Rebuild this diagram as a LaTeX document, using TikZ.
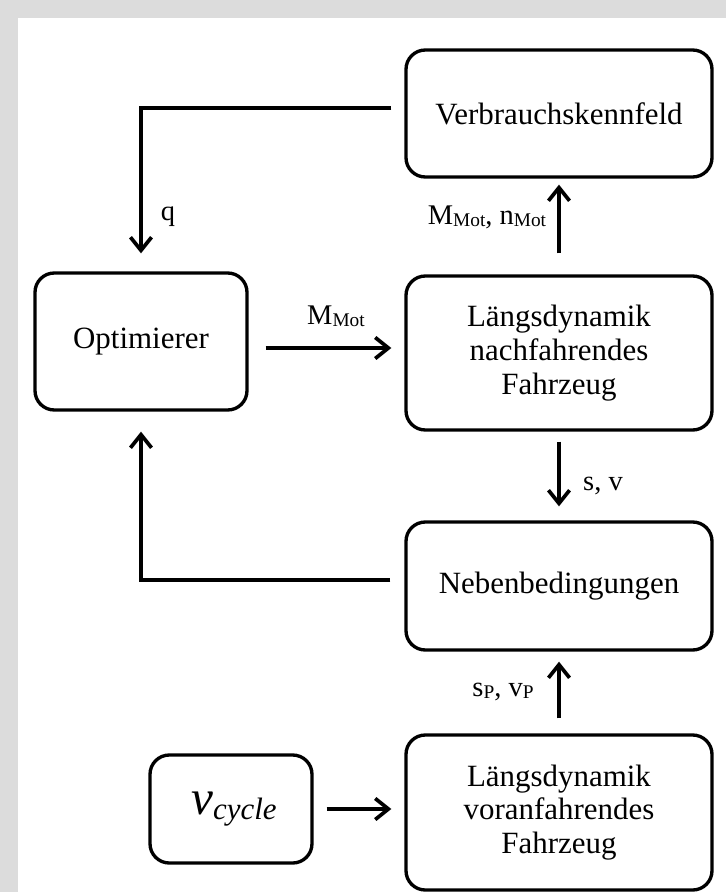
\documentclass[tikz,border=0pt]{standalone}
\usepackage{fontspec}
\setmainfont{Liberation Serif}
\usepackage{tikz}
\usetikzlibrary{arrows.meta,positioning}
\definecolor{frame}{HTML}{DCDCDC}
\definecolor{ink}{HTML}{000000}
\newcommand{\lowtxt}[1]{\raisebox{-0.15ex}{\fontsize{11}{12}\selectfont #1}}
\tikzset{
  blockbox/.style={rectangle, rounded corners=11pt, draw=ink, fill=white, line width=1.9pt,
                   align=center, inner sep=0pt, font=\fontsize{17.6}{19.2}\selectfont},
  flow/.style={-{Straight Barb[length=7.5pt,width=12pt]}, draw=ink, line width=2.1pt},
  lbl/.style={inner sep=0pt, font=\fontsize{16.2}{18}\selectfont}
}

\begin{document}
\begin{tikzpicture}
 \fill[frame] (0,0) rectangle (14.52,-17.84);
 \fill[white] (0.36,-0.37) rectangle (14.52,-17.84);
 \useasboundingbox (0,0) rectangle (14.52,-17.84);

 \node[blockbox, minimum width=6.12cm, minimum height=2.54cm] (kennfeld) at (11.18,-2.27) {Verbrauchskennfeld};
 \node[blockbox, minimum width=4.24cm, minimum height=2.74cm] (optim) at (2.82,-6.83) {Optimierer};
 \node[blockbox, minimum width=6.12cm, minimum height=3.08cm] (nachf) at (11.18,-7.06) {Längsdynamik\\nachfahrendes\\Fahrzeug};
 \node[blockbox, minimum width=6.12cm, minimum height=2.56cm] (neben) at (11.18,-11.72) {Nebenbedingungen};
 \node[blockbox, minimum width=3.24cm, minimum height=2.16cm] (vcycle) at (4.62,-16.18)
   {\hspace{0.12cm}{\fontsize{28}{28}\selectfont\itshape v}\raisebox{-0.3ex}{\itshape cycle}};
 \node[blockbox, minimum width=6.12cm, minimum height=3.10cm] (voran) at (11.18,-16.25) {Längsdynamik\\voranfahrendes\\Fahrzeug};

 \draw[flow] ([xshift=-0.26cm,yshift=0.11cm]kennfeld.west) -| ([yshift=0.36cm]optim.north);
 \draw[flow] ([xshift=-0.28cm,yshift=0.12cm]neben.west) -| ([yshift=-0.4cm]optim.south);
 \draw[flow] ([xshift=0.34cm,yshift=-0.13cm]optim.east) -- ([xshift=-0.26cm,yshift=-0.13cm]optim.east -| nachf.west);
 \draw[flow] ([yshift=0.42cm]nachf.north) -- ([yshift=-0.12cm]kennfeld.south);
 \draw[flow] ([yshift=-0.2cm]nachf.south) -- ([yshift=0.28cm]neben.north);
 \draw[flow] ([yshift=0.3cm]voran.north) -- ([yshift=-0.2cm]neben.south);
 \draw[flow] ([xshift=0.26cm]vcycle.east) -- ([xshift=-0.26cm]vcycle.east -| voran.west);

 \node[lbl] (qlbl) at (3.36,-4.34) {q};
 \node[lbl] (mmot) at (6.72,-6.32) {M\lowtxt{Mot}};
 \node[lbl] (mnmot) at (9.74,-4.34) {M\lowtxt{Mot}, n\lowtxt{Mot}};
 \node[lbl] (svlbl) at (12.06,-9.72) {s, v};
 \node[lbl] (spvp) at (10.06,-13.84) {s\lowtxt{P}, v\lowtxt{P}};
\end{tikzpicture}
\end{document}
